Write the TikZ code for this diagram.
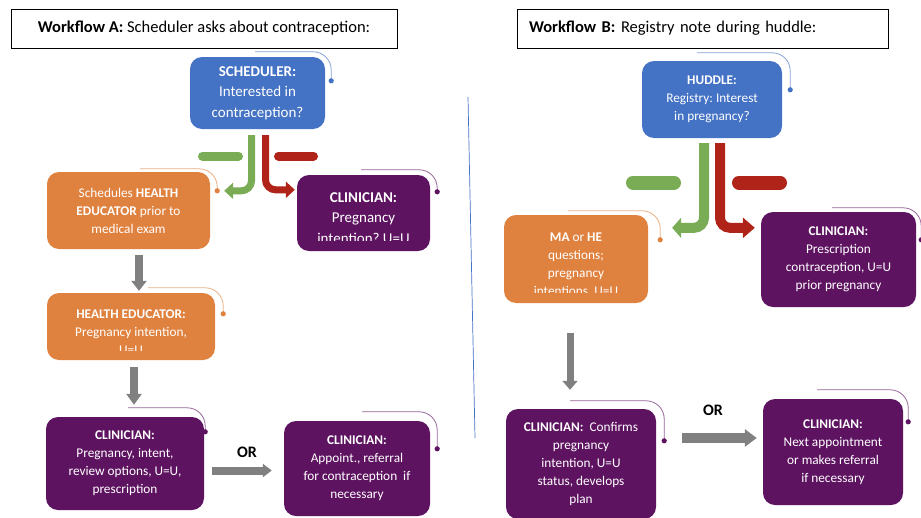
\documentclass[tikz,border=0pt]{standalone}
\usepackage{fontspec}
\setmainfont{Carlito}
\usetikzlibrary{arrows.meta,calc}
\frenchspacing

\definecolor{cardblue}{HTML}{4472C4}
\definecolor{cardorange}{HTML}{E0823F}
\definecolor{cardpurple}{HTML}{5E1361}
\definecolor{yesgreen}{HTML}{7AAB55}
\definecolor{nored}{HTML}{B02318}
\definecolor{flowgray}{HTML}{808080}

\newcommand\cardfont{\fontsize{13.3pt}{18pt}\selectfont}
\newcommand\bigcardfont{\fontsize{15pt}{20.5pt}\selectfont}
\newcommand\headfont{\fontsize{16.5pt}{20pt}\selectfont}

\tikzset{
  card/.style={rounded corners=12pt, inner sep=0pt, align=center, text=white, font=\cardfont},
  bluecard/.style={card, fill=cardblue},
  orangecard/.style={card, fill=cardorange},
  purplecard/.style={card, fill=cardpurple},
  cardtext/.style={inner sep=0pt, align=center, text=white, font=\cardfont},
  titlebox/.style={draw=black, line width=1pt, fill=white, inner ysep=0pt, minimum height=39pt, font=\headfont},
  flow/.style={draw=flowgray, line width=8pt, -{Triangle[width=15pt,length=10pt]}},
  branch/.style={line width=7pt, rounded corners=10pt, -{Triangle[width=16pt,length=9pt]}},
  bar/.style={line width=#1, line cap=round},
  orlabel/.style={font=\fontsize{16pt}{18pt}\selectfont\bfseries, inner sep=0pt},
  divider/.style={draw=cardblue, line width=0.7pt},
}

% thin curved tag hooked round the top right corner of a card, ending in a dot
% #1 card, #2 colour, #3 x of the start (from the corner), #4 height above the top,
% #5 x of the dot, #6 depth of the dot below the top
\newcommand\cornerlink[6]{%
  \draw[#2!65!white, line width=0.8pt, rounded corners=18pt]
    ($(#1.north east)+(#3,-#4)$) -| ($(#1.north east)+(#5,#6)$);
  \fill[#2] ($(#1.north east)+(#5,#6)$) circle (2.6pt);
}

\begin{document}
\begin{tikzpicture}[x=1pt, y=-1pt]
\useasboundingbox (0,0) rectangle (921,517);

% headings
\node[titlebox, minimum width=386pt, align=center] (titleA) at (204,28.5)
  {\textbf{Workflow A:} Scheduler asks about contraception:};
\node[titlebox, text width=347pt, inner xsep=12pt, align=left] (titleB) at (702.5,28.5)
  {\textbf{Workflow B:} Registry note during huddle:};

% separator between the two workflows
\draw[divider] (468,97) -- (475,438);

% ---------------- Workflow A ----------------
\node[bluecard, minimum width=135pt, minimum height=72pt, font=\bigcardfont] (sched) at (257.5,93)
  {\textbf{SCHEDULER:}\\Interested in\\contraception?};

\node[orangecard, minimum width=163pt, minimum height=77pt] (educ) at (128.5,210.5)
  {Schedules \textbf{HEALTH}\\\textbf{EDUCATOR} prior to\\medical exam};

\node[purplecard, minimum width=133pt, minimum height=76pt] (clinA1) at (363.5,213) {};
\begin{scope}
  \clip (clinA1.north west) rectangle ($(clinA1.south east)+(0,-11)$);
  \node[cardtext, font=\bigcardfont, anchor=north] (clinA1text) at (363.5,192)
    {\textbf{CLINICIAN:}\\Pregnancy\\intention? U=U};
\end{scope}

\node[orangecard, minimum width=168pt, minimum height=67pt] (heA) at (131,326.5) {};
\begin{scope}
  \clip (heA.north west) rectangle ($(heA.south east)+(0,-10)$);
  \node[cardtext, anchor=north] (heAtext) at (131,309.5)
    {\textbf{HEALTH EDUCATOR:}\\Pregnancy intention,\\U=U};
\end{scope}

\node[purplecard, minimum width=158pt, minimum height=93pt] (clinA2) at (125,463.5)
  {\textbf{CLINICIAN:}\\Pregnancy, intent,\\review options, U=U,\\prescription};

\node[purplecard, minimum width=146pt, minimum height=95pt] (clinA3) at (357,468.5)
  {\textbf{CLINICIAN:}\\Appoint., referral\\for contraception\ \ if\\necessary};

% branch markers and split arrows
\draw[bar=9pt, yesgreen] (202.5,156) -- (238.5,156);
\draw[bar=9pt, nored] (278.5,156) -- (313.5,156);
\draw[branch, yesgreen] ($(sched.south)+(-6,6)$) |- ($(educ.north east)+(14,19)$);
\draw[branch, nored] ($(sched.south)+(8,6)$) |- ($(clinA1.north west)+(-2,15)$);

\draw[flow] ($(educ.south)+(10.5,6)$) -- ($(heA.north)+(8,-2)$);
\draw[flow, -{Triangle[width=15pt,length=11pt]}] ($(heA.south)+(3,7)$) -- ($(clinA2.north)+(9,-12)$);
\draw[flow, -{Triangle[width=13pt,length=9pt]}] ($(clinA2.east)+(8,7)$) -- ($(clinA3.west)+(-12,2)$);
\node[orlabel] (orA) at (247,452) {OR};

% ---------------- Workflow B ----------------
\node[bluecard, minimum width=140pt, minimum height=77pt] (huddle) at (712,99.5)
  {\textbf{HUDDLE:}\\Registry: Interest\\in pregnancy?};

\node[orangecard, minimum width=144pt, minimum height=88pt] (maB) at (576,259) {};
\begin{scope}
  \clip (maB.north west) rectangle ($(maB.south east)+(0,-11)$);
  \node[cardtext, anchor=north] (maBtext) at (576,233)
    {\textbf{MA} or \textbf{HE}\\questions;\\pregnancy\\intentions, U=U};
\end{scope}

\node[purplecard, minimum width=155pt, minimum height=95pt] (clinB1) at (838.5,259.5)
  {\textbf{CLINICIAN:}\\Prescription\\contraception, U=U\\prior pregnancy};

\node[purplecard, minimum width=150pt, minimum height=110pt] (clinB2) at (581,464)
  {\textbf{CLINICIAN:}\ \ Confirms\\pregnancy\\intention, U=U\\status, develops\\plan};

\node[purplecard, minimum width=140pt, minimum height=106pt] (clinB3) at (833,452)
  {\textbf{CLINICIAN:}\\Next appointment\\or makes referral\\if necessary};

\draw[bar=14pt, yesgreen] (633,182.5) -- (674,182.5);
\draw[bar=14pt, nored] (739,182.5) -- (780,182.5);
\draw[branch, line width=10pt, yesgreen, -{Triangle[width=20pt,length=9pt]}]
  ($(huddle.south)+(-8,5)$) |- ($(maB.north east)+(24,13)$);
\draw[branch, line width=10pt, nored, -{Triangle[width=20pt,length=12pt]}]
  ($(huddle.south)+(8,5)$) |- ($(clinB1.north west)+(-6,16)$);

\draw[flow, line width=7pt, -{Triangle[width=15pt,length=9pt]}] ($(maB.south)+(-6,30)$) -- ($(clinB2.north)+(-11,-19)$);
\draw[flow, line width=10pt, -{Triangle[width=17pt,length=12pt]}] ($(clinB2.east)+(26,-26)$) -- ($(clinB3.west)+(-6,-14)$);
\node[orlabel] (orB) at (713,410) {OR};

% corner tags
\cornerlink{sched}{cardblue}{-70}{5}{6}{24}
\cornerlink{educ}{cardorange}{-70}{3}{7}{19}
\cornerlink{clinA1}{cardpurple}{-69}{5}{7}{17}
\cornerlink{heA}{cardorange}{-67}{5}{8}{21}
\cornerlink{clinA2}{cardpurple}{-76}{9}{1}{15}
\cornerlink{clinA3}{cardpurple}{-68}{9}{7}{28}
\cornerlink{huddle}{cardblue}{-85}{8}{8}{29}
\cornerlink{maB}{cardorange}{-80}{4}{12}{25}
\cornerlink{clinB1}{cardpurple}{-84}{4}{5}{28}
\cornerlink{clinB2}{cardpurple}{-86}{8}{8}{32}
\cornerlink{clinB3}{cardpurple}{-86}{9}{5}{23}
\end{tikzpicture}
\end{document}
